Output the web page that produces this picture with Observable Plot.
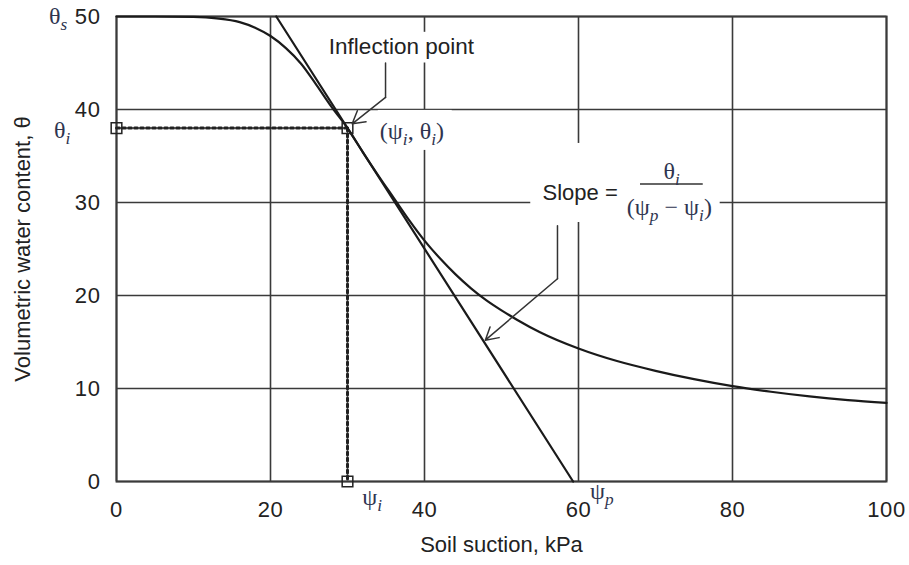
<!DOCTYPE html>
<html>
<head>
<meta charset="utf-8">
<script src="https://cdn.jsdelivr.net/npm/d3@7"></script>
<script src="https://cdn.jsdelivr.net/npm/@observablehq/plot@0.6"></script>
<style>
  body { margin: 0; background: #fff; }
  #chart svg { display: block; }
  #chart g[aria-label$="tick label"] text { letter-spacing: 0.6px; }
</style>
</head>
<body>
<div id="chart"></div>
<script>
// Soil-water characteristic curve: suction (kPa) vs volumetric water content
const suction = [0, 5, 10, 13, 16, 18, 20, 22, 24, 26, 28, 30, 32, 34, 36, 38, 40, 42, 44, 46, 48, 50, 52, 55, 60, 65, 70, 75, 80, 85, 90, 95, 100];
const water   = [50, 50, 49.95, 49.8, 49.4, 48.8, 47.9, 46.6, 44.9, 42.6, 40.2, 38, 35.4, 32.9, 30.5, 28.1, 25.9, 24.0, 22.3, 20.8, 19.5, 18.4, 17.4, 16.05, 14.3, 12.95, 11.9, 11.0, 10.25, 9.65, 9.15, 8.75, 8.45];

// Inflection point and the tangent drawn through it
const psiI = 30;
const thetaI = 38;
const psiP = 59.3;
const tangentPsi = [20.75, 59.3];
const tangentTheta = [50, 0];

// Axis ticks
const xTicks = [0, 20, 40, 60, 80, 100];
const yTicks = [0, 10, 20, 30, 40, 50];

const curve = suction.map((psi, i) => ({psi, theta: water[i]}));
const tangent = tangentPsi.map((psi, i) => ({psi, theta: tangentTheta[i]}));
const guideH = [{psi: 0, theta: thetaI}, {psi: psiI, theta: thetaI}];
const guideV = [{psi: psiI, theta: thetaI}, {psi: psiI, theta: 0}];
const markers = [{psi: 0, theta: thetaI}, {psi: psiI, theta: thetaI}, {psi: psiI, theta: 0}];

// White panels behind the annotations (data units)
const panels = [
  {x1: 26.6, x2: 47.4, y1: 45.0, y2: 48.3},
  {x1: 34.0, x2: 43.6, y1: 35.6, y2: 39.9},
  {x1: 53.8, x2: 78.4, y1: 27.85, y2: 36.35}
];

const ink = "#222";
const gridInk = "#3a3a3a";
const mathInk = "#2f3550";
const serif = "'Liberation Serif', 'DejaVu Serif', serif";

function math(items, anchor) {
  return Plot.text(items, {
    x: "x", y: "y", text: "text", textAnchor: anchor,
    fontFamily: serif, fontSize: 24, fill: mathInk
  });
}

const chart = Plot.plot({
  width: 909,
  height: 565,
  marginLeft: 116,
  marginRight: 23,
  marginTop: 16,
  marginBottom: 84,
  x: {domain: [0, 100]},
  y: {domain: [0, 50]},
  style: {
    fontFamily: "'Liberation Sans', Arial, sans-serif",
    fontSize: "21px",
    color: ink,
    background: "#fff",
    overflow: "visible"
  },
  marks: [
    Plot.gridX(xTicks, {stroke: gridInk, strokeOpacity: 1, strokeWidth: 1.6}),
    Plot.gridY(yTicks, {stroke: gridInk, strokeOpacity: 1, strokeWidth: 1.6}),
    Plot.rect(panels, {x1: "x1", x2: "x2", y1: "y1", y2: "y2", fill: "white"}),
    Plot.frame({stroke: gridInk, strokeWidth: 2}),

    // dotted guides to the axes
    Plot.line(guideH, {x: "psi", y: "theta", stroke: ink, strokeWidth: 3, strokeDasharray: "3,3"}),
    Plot.line(guideV, {x: "psi", y: "theta", stroke: ink, strokeWidth: 3, strokeDasharray: "3,3"}),

    // retention curve and tangent
    Plot.line(curve, {x: "psi", y: "theta", curve: "monotone-x", stroke: "#1a1a1a", strokeWidth: 2.2}),
    Plot.line(tangent, {x: "psi", y: "theta", stroke: "#1a1a1a", strokeWidth: 2.2}),

    Plot.dot(markers, {x: "psi", y: "theta", symbol: "square", r: 6, fill: "none", stroke: ink, strokeWidth: 1.5}),

    // leader for the inflection point
    Plot.line([{x: 34.94, y: 45.0}, {x: 34.94, y: 41.3}], {x: "x", y: "y", stroke: "#333", strokeWidth: 1.5}),
    Plot.arrow([{x1: 34.94, y1: 41.3, x2: 30.61, y2: 38.46}], {x1: "x1", y1: "y1", x2: "x2", y2: "y2", stroke: "#333", strokeWidth: 1.5, headLength: 14}),

    // leader for the slope note
    Plot.line([{x: 57.27, y: 27.5}, {x: 57.27, y: 21.8}], {x: "x", y: "y", stroke: "#333", strokeWidth: 1.5}),
    Plot.arrow([{x1: 57.27, y1: 21.8, x2: 47.9, y2: 15.2}], {x1: "x1", y1: "y1", x2: "x2", y2: "y2", stroke: "#333", strokeWidth: 1.5, headLength: 14}),

    // axes
    Plot.axisX(xTicks, {tickSize: 0, tickPadding: 20, fontSize: 22, fill: ink}),
    Plot.axisY(yTicks, {tickSize: 0, tickPadding: 16, fontSize: 22, fill: ink}),
    Plot.text(["Soil suction, kPa"], {frameAnchor: "bottom", dy: 70, fontSize: 22, fill: ink}),
    Plot.text(["Volumetric water content, θ"], {frameAnchor: "left", dx: -94, rotate: -90, textAnchor: "middle", fontSize: 22, fill: ink}),

    // annotations
    Plot.text(["Inflection point"], {x: 37.0, y: 46.7, fontSize: 22.5, fill: ink}),
    Plot.text(["Slope ="], {x: 65.1, y: 31.0, textAnchor: "end", fontSize: 22, fill: ink}),
    Plot.ruleY([32.0], {x1: 68.05, x2: 76.2, stroke: "#333", strokeWidth: 1.5}),
    math([{text: "θ_s", x: -6.4, y: 50}, {text: "θ_i", x: -6.0, y: 37.8}], "end"),
    math([{text: "ψ_i", x: 31.9, y: -1.7}, {text: "ψ_p", x: 61.5, y: -1.1}, {text: "(ψ_i, θ_i)", x: 34.2, y: 37.7}], "start"),
    math([{text: "θ_i", x: 72.1, y: 33.4}, {text: "(ψ_p − ψ_i)", x: 71.8, y: 29.5}], "middle")
  ]
});

document.getElementById("chart").append(chart);

// Turn "_x" markers into italic subscripts
d3.select(chart).selectAll("text").each(function () {
  const s = this.textContent;
  if (!s.includes("_")) return;
  const node = d3.select(this);
  const fs = parseFloat(getComputedStyle(this).fontSize) || 21;
  const shift = fs * 0.25;
  node.text(null);
  let offset = 0;
  s.split(/(_\S)/).forEach(part => {
    if (!part) return;
    if (part[0] === "_" && part.length === 2) {
      node.append("tspan").attr("dy", shift - offset).attr("font-style", "italic")
        .attr("font-size", fs * 0.72).text(part[1]);
      offset = shift;
    } else {
      node.append("tspan").attr("dy", -offset).text(part);
      offset = 0;
    }
  });
});
</script>
</body>
</html>
